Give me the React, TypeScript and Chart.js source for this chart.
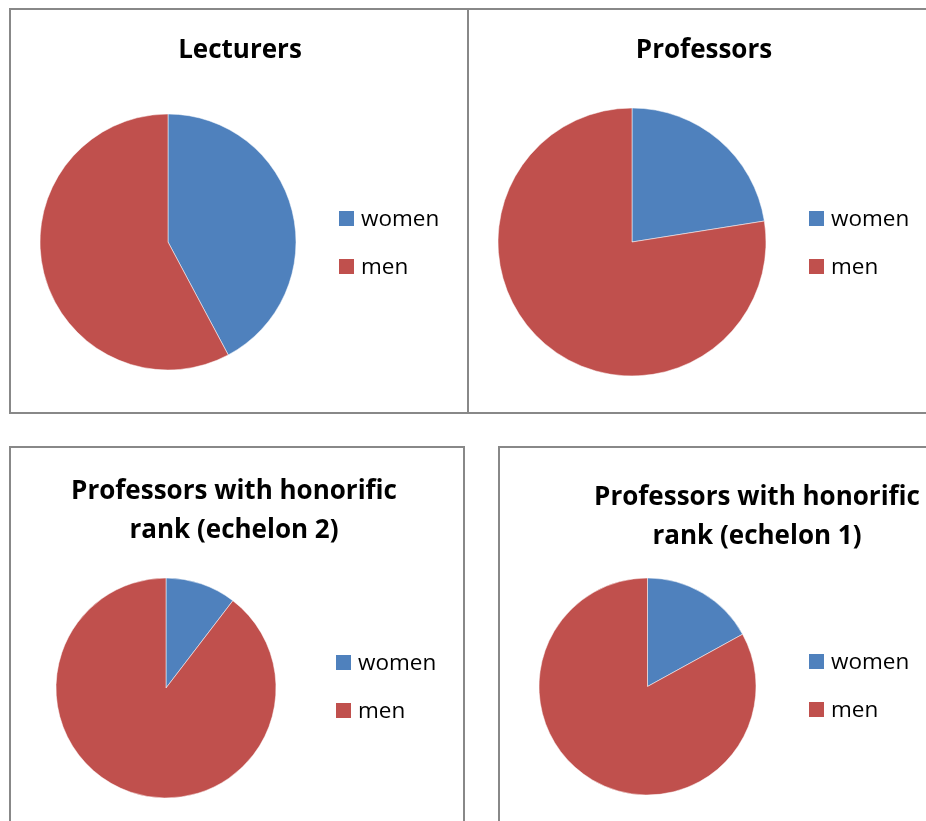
import React, { useEffect, useRef } from "react";
import { Chart, registerables } from "chart.js";

Chart.register(...registerables);

// ---- data ----
const categories = ["women", "men"];
const lecturers = [42.2, 57.8];
const professors = [22.5, 77.5];
const echelon2 = [10.4, 89.6];
const echelon1 = [17.0, 83.0];
const titleLecturers = ["Lecturers"];
const titleProfessors = ["Professors"];
const titleEchelon2 = ["Professors with honorific", "rank (echelon 2)"];
const titleEchelon1 = ["Professors with honorific", "rank (echelon 1)"];
const sliceColors = ["#4F81BD", "#C0504D"];

// ---- layout (absolute page coords) ----
type Layout = {
  canvas: [number, number, number, number];
  pie: [number, number, number];
  titleX: number;
  titleY: number[];
  legendX: number;
  legendY: number;
};

const layouts: Layout[] = [
  { canvas: [11, 10, 456, 402], pie: [168, 242, 128], titleX: 240, titleY: [51], legendX: 339, legendY: 211 },
  { canvas: [470, 10, 456, 402], pie: [632, 242, 134], titleX: 704, titleY: [51], legendX: 809, legendY: 211 },
  { canvas: [11, 448, 453, 373], pie: [166, 688, 110], titleX: 234, titleY: [492, 531], legendX: 336, legendY: 655 },
  { canvas: [500, 448, 426, 373], pie: [647.5, 686.5, 108.5], titleX: 757, titleY: [498, 537], legendX: 809, legendY: 654 },
];

const FONT = '"Open Sans", "Liberation Sans", sans-serif';

function PieBox({ values, title, layout }: { values: number[]; title: string[]; layout: Layout }) {
  const ref = useRef<HTMLCanvasElement | null>(null);
  useEffect(() => {
    if (!ref.current) return;
    const [cx0, cy0, cw, ch] = layout.canvas;
    const [px, py, r] = layout.pie;
    const bw = 1;
    const padding = {
      left: px - r - cx0 - bw / 2,
      top: py - r - cy0 - bw / 2,
      right: cx0 + cw - (px + r) - bw / 2,
      bottom: cy0 + ch - (py + r) - bw / 2,
    };
    const decor = {
      id: "decor",
      afterDraw(chart: any) {
        const ctx = chart.ctx;
        ctx.save();
        ctx.fillStyle = "#000";
        ctx.textAlign = "center";
        ctx.textBaseline = "middle";
        ctx.font = `bold 26px ${FONT}`;
        title.forEach((t, i) => {
          ctx.fillText(t, layout.titleX - cx0, layout.titleY[i] - cy0);
        });
        const ds = chart.data.datasets[0];
        ctx.font = `22.5px ${FONT}`;
        ctx.textAlign = "left";
        (chart.data.labels as string[]).forEach((lab, i) => {
          const y = layout.legendY - cy0 + i * 48;
          const x = layout.legendX - cx0;
          ctx.fillStyle = ds.backgroundColor[i];
          ctx.fillRect(x, y, 15, 15);
          ctx.fillStyle = "#000";
          ctx.fillText(lab, x + 22, y + 8.5);
        });
        ctx.restore();
      },
    };
    const chart = new Chart(ref.current, {
      type: "pie",
      data: {
        labels: categories,
        datasets: [
          {
            data: values,
            backgroundColor: sliceColors,
            borderColor: "rgba(255,255,255,0.5)",
            borderWidth: bw,
          },
        ],
      },
      options: {
        animation: false,
        responsive: false,
        maintainAspectRatio: false,
        devicePixelRatio: 1,
        layout: { padding },
        plugins: {
          legend: { display: false },
          title: { display: false },
          tooltip: { enabled: false },
        },
      },
      plugins: [decor],
    });
    return () => chart.destroy();
  }, []);
  const [x, y, w, h] = layout.canvas;
  return (
    <canvas
      ref={ref}
      width={w}
      height={h}
      style={{ position: "absolute", left: x, top: y, width: w, height: h }}
    />
  );
}

const borderColor = "#888888";

export default function App() {
  return (
    <div
      style={{
        position: "absolute",
        left: 0,
        top: 0,
        width: 926,
        height: 821,
        overflow: "hidden",
        background: "#fff",
      }}
    >
      {/* top box outer border */}
      <div
        style={{
          position: "absolute",
          left: 9,
          top: 8,
          width: 1000,
          height: 402,
          border: `2px solid ${borderColor}`,
        }}
      />
      {/* top divider */}
      <div style={{ position: "absolute", left: 467, top: 8, width: 2, height: 406, background: borderColor }} />
      {/* bottom left box */}
      <div
        style={{
          position: "absolute",
          left: 9,
          top: 446,
          width: 452,
          height: 500,
          border: `2px solid ${borderColor}`,
        }}
      />
      {/* bottom right box */}
      <div
        style={{
          position: "absolute",
          left: 498,
          top: 446,
          width: 600,
          height: 500,
          border: `2px solid ${borderColor}`,
        }}
      />
      <PieBox values={lecturers} title={titleLecturers} layout={layouts[0]} />
      <PieBox values={professors} title={titleProfessors} layout={layouts[1]} />
      <PieBox values={echelon2} title={titleEchelon2} layout={layouts[2]} />
      <PieBox values={echelon1} title={titleEchelon1} layout={layouts[3]} />
    </div>
  );
}
